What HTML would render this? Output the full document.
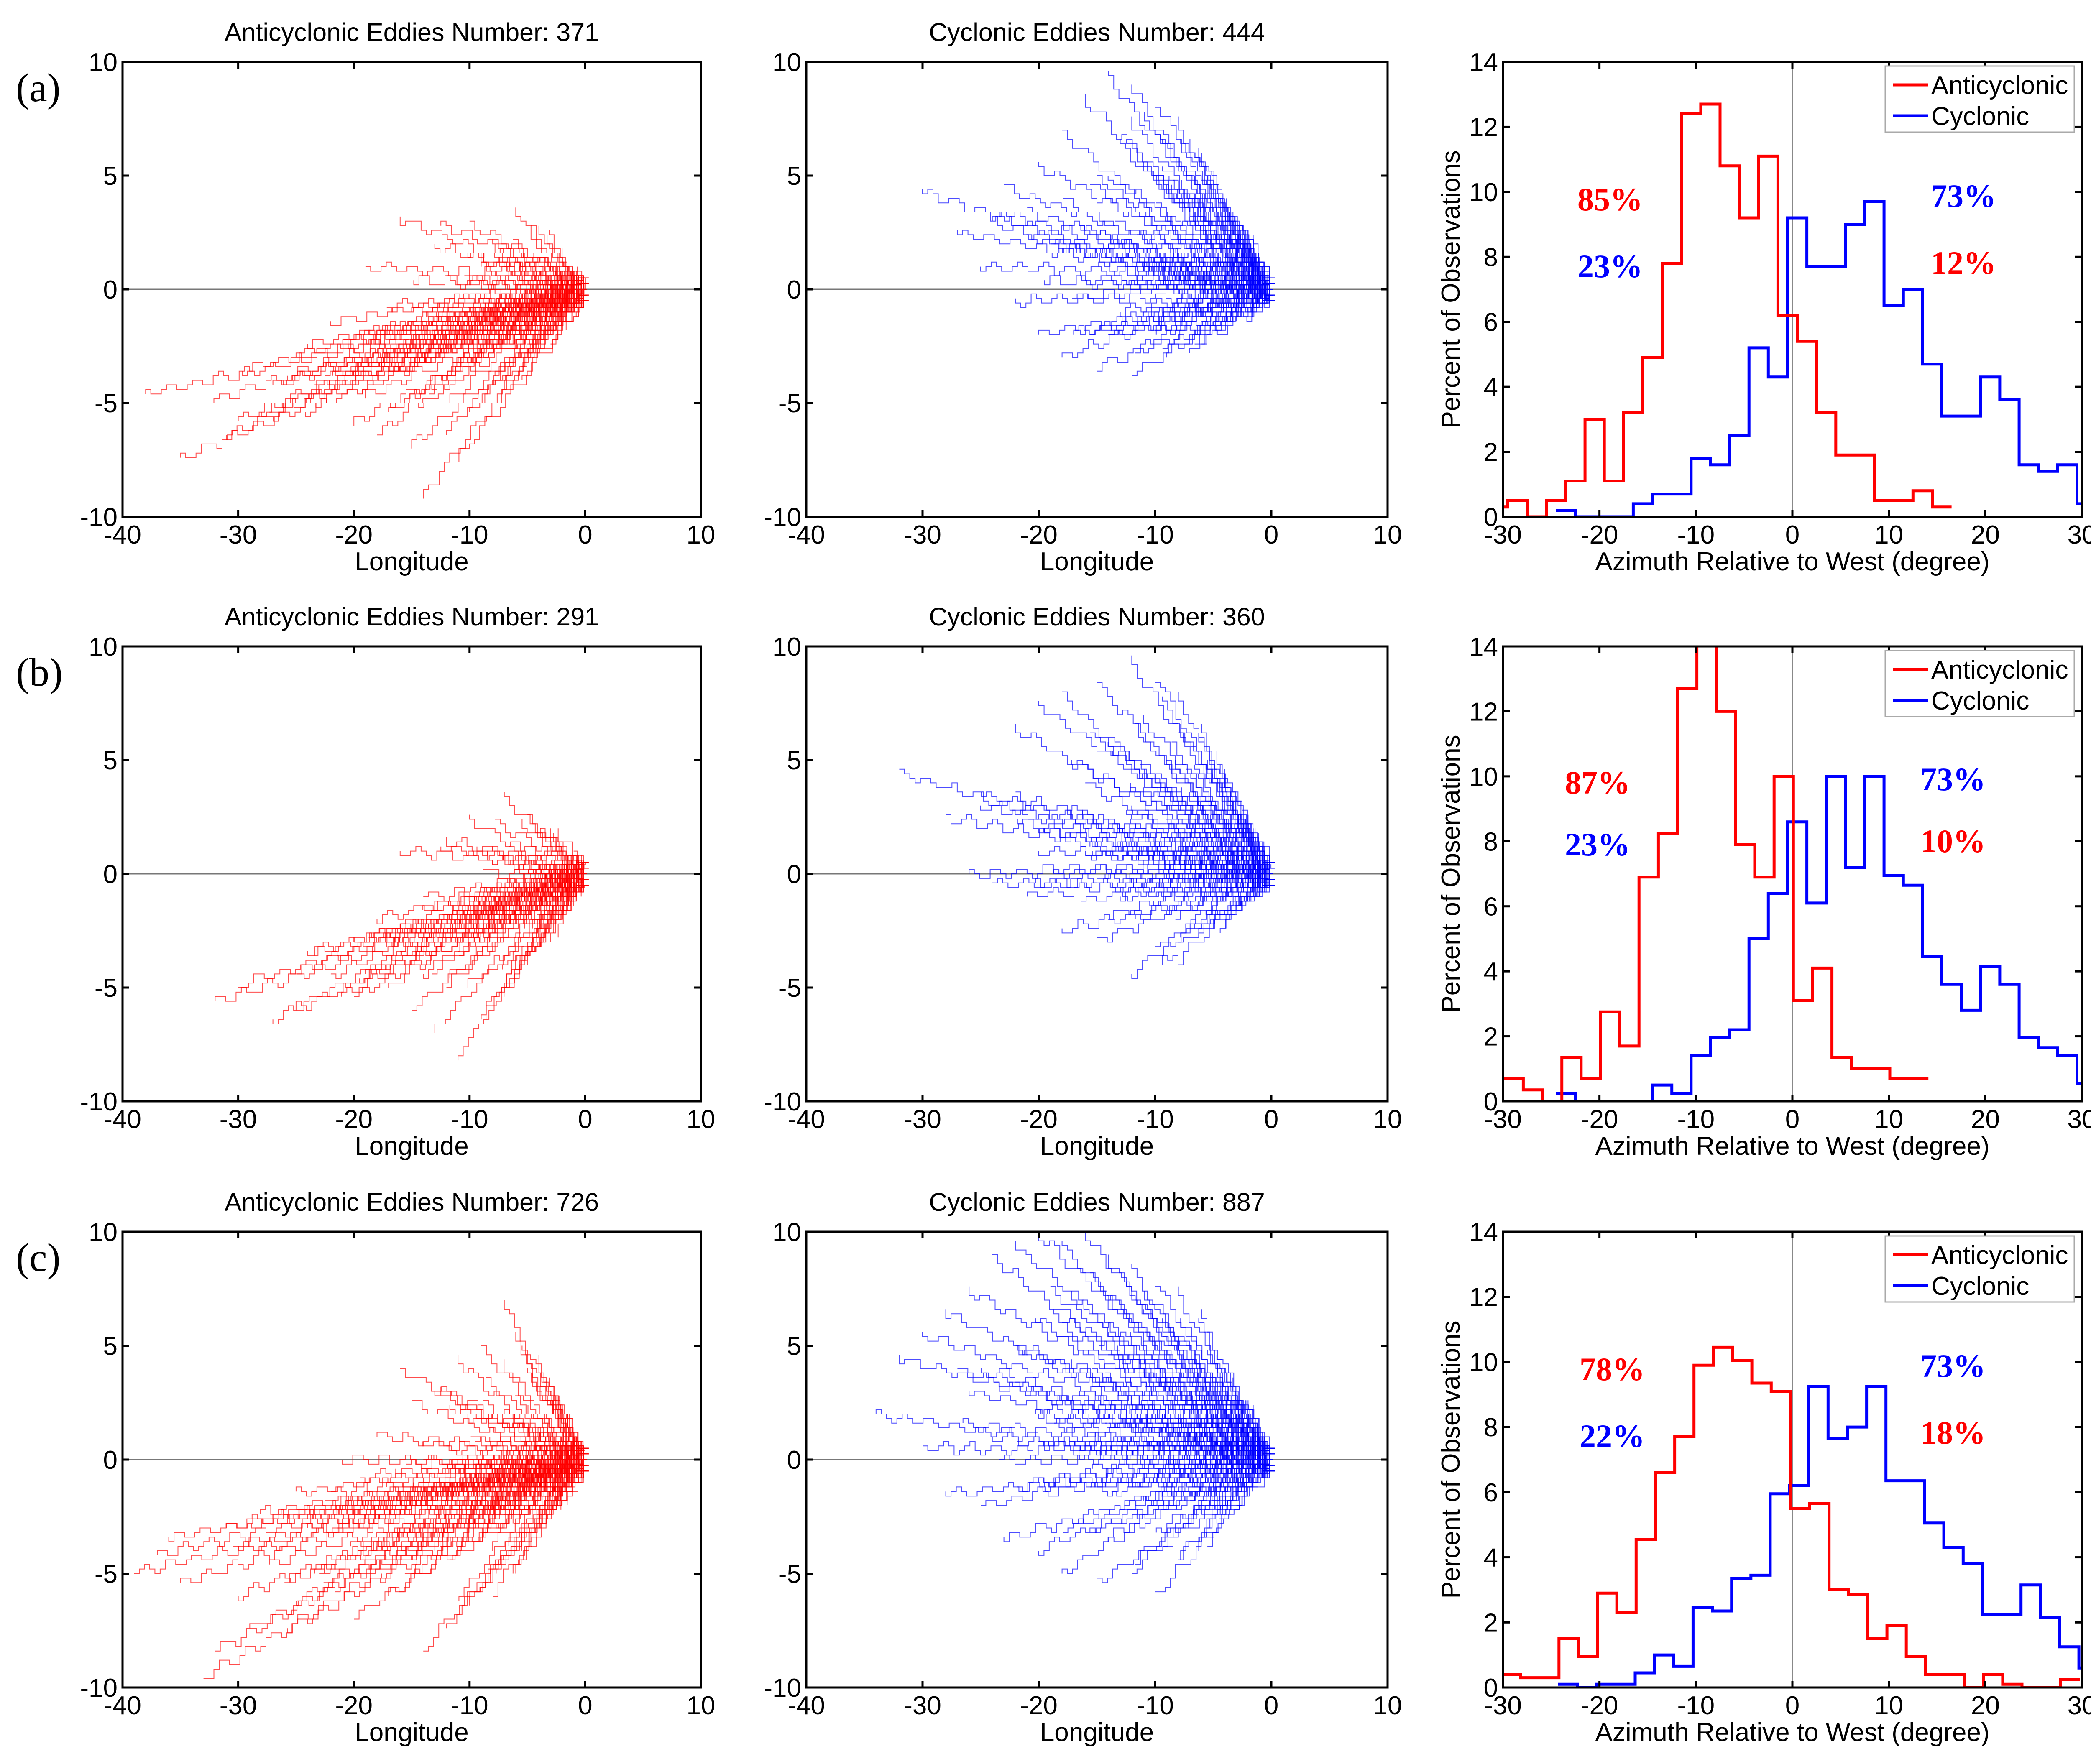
<!DOCTYPE html>
<html>
<head>
<meta charset="utf-8">
<style>
  html,body{margin:0;padding:0;background:#fff;}
  svg{display:block;}
  text{font-family:"Liberation Sans",Arial,sans-serif;fill:#000;}
  .tick{font-size:62px;}
  .ttl{font-size:61px;}
  .pct{font-family:"Liberation Serif","Times New Roman",serif;font-weight:bold;font-size:78px;}
  .plab{font-family:"Liberation Serif","Times New Roman",serif;font-size:96px;}
</style>
</head>
<body>
<svg id="fig" xmlns="http://www.w3.org/2000/svg" width="5060" height="4219" viewBox="0 0 5060 4219">
  <rect x="0" y="0" width="5060" height="4219" fill="#fff"/>
</svg>
<script>
// ---------- Histogram data (percent of observations, 2-degree bins) ----------
const histBinWidth = 2;
const redStartA = -31.5;
const redValsA = [0.3,0.5,0,0.5,1.1,3.0,1.1,3.2,4.9,7.8,12.4,12.7,10.8,9.2,11.1,6.2,5.4,3.2,1.9,1.9,0.5,0.5,0.8,0.3];
const blueStartA = -24.5;
const blueValsA = [0.2,0,0,0,0.4,0.7,0.7,1.8,1.6,2.5,5.2,4.3,9.2,7.7,7.7,9.0,9.7,6.5,7.0,4.7,3.1,3.1,4.3,3.6,1.6,1.4,1.6,0.4];
const redStartB = -29.9;
const redValsB = [0.7,0.35,0,1.35,0.7,2.75,1.7,6.9,8.25,12.7,14.5,12.0,7.9,6.9,10.0,3.1,4.1,1.35,1.0,1.0,0.7,0.7];
const blueStartB = -24.5;
const blueValsB = [0.25,0,0,0,0,0.5,0.25,1.4,1.95,2.2,5.0,6.4,8.6,6.1,10.0,7.2,10.0,6.95,6.65,4.45,3.6,2.8,4.15,3.6,1.95,1.65,1.4,0.55];
const redStartC = -30.2;
const redValsC = [0.4,0.3,0.3,1.5,0.95,2.9,2.3,4.55,6.6,7.7,9.9,10.45,10.05,9.35,9.1,5.5,5.65,3.0,2.85,1.5,1.9,0.95,0.4,0.4,0,0.4,0.1,0,0,0.25];
const blueStartC = -24.3;
const blueValsC = [0.1,0,0.1,0.1,0.45,1.0,0.65,2.45,2.35,3.35,3.45,5.95,6.2,9.25,7.65,8.0,9.25,6.35,6.35,5.05,4.3,3.8,2.25,2.25,3.15,2.15,1.25,0.6];
const histXTicks = [-30,-20,-10,0,10,20,30];
const histYTicks = [0,2,4,6,8,10,12,14];
const pctLabelsA = ["85%","23%","73%","12%"];
const pctLabelsB = ["87%","23%","73%","10%"];
const pctLabelsC = ["78%","22%","73%","18%"];

// ---------- Trajectory endpoints (lon, lat) ----------
const antiLonA = [-38,-35,-31,-33,-28,-26,-24,-22,-20,-18,-15,-14,-12,-16,-10,-6,-4,-19,-13,-8,-2,-25,-30,-23,-17,-10,-7,-5,-3,-1,-21,-18,-15,-12,-9,-6,-4,-11,-8,-13,-19,-27];
const antiLatA = [-4.6,-7.5,-6.5,-5,-5.5,-4,-2.5,-1.5,-6,-6.5,-7,-9.2,-6.5,3.2,3,3.5,2.8,1,2,2.2,1.8,-3,-5.8,-4.5,-5.5,-5.5,-4.5,-3,-2.5,-1,-3.5,-2,-1,0.5,1,0,-1,-3,-2.5,-4.2,-4.8,-4.3];
const cycLonA = [-30,-27,-25,-22,-20,-18,-16,-14,-12,-10,-8,-6,-4,-2,-17,-15,-12,-9,-6,-3,-24,-21,-19,-15,-13,-11,-9,-7,-5,-13,-10,-8,-14,-11,-18,-20,-16,-23,-12,-7];
const cycLatA = [4.3,2.5,1,-0.5,5.5,7,8.5,9.5,9,8.5,7.5,6,4,2.5,-2,-3.5,-3.8,-3,-2.5,-1.5,3,3.5,2,5,6.5,5.5,4.5,3,1.5,-1,-2,0,2,1,-3,-2,0.5,4.5,7.5,6.5];
const antiLonB = [-32,-30,-27,-25,-22,-20,-18,-16,-14,-12,-10,-7,-5,-3,-1,-11,-13,-9,-7,-5,-3,-1,-19,-16,-14,-11,-9,-8,-6,-4,-24,-20,-17,-15,-12];
const antiLatB = [-5.7,-5,-6.5,-6,-4.5,-3,-2,1,-1,1.5,2.5,3.5,2.5,2,1,-8.2,-7,-6.5,-5,-4,-3,-1.5,-4.5,-3.5,-4.5,-3,-1,0.5,-1.5,0,-3.5,-5.5,-5,-6,-5];
const cycLonB = [-32,-28,-25,-22,-20,-18,-15,-12,-10,-8,-6,-4,-2,-24,-21,-18,-15,-12,-10,-8,-5,-3,-20,-16,-14,-12,-9,-7,-16,-13,-10,-6,-26,-22,-11];
const cycLatB = [4.5,2.5,3,6.5,7.5,8,8.5,9.5,9,8,6.5,4.5,2.5,-0.5,-1,-2.5,-3,-4.5,-3.5,-4,-2.5,-1.5,1,4,6,3,5,2,1,-1,0.5,-1,0,3.5,7];
const antiLonC = [-39,-37,-35,-33,-32,-30,-28,-26,-24,-22,-20,-18,-16,-14,-12,-10,-8,-7,-5,-3,-1,-12,-10,-8,-6,-4,-2,-18,-15,-13,-11,-9,-6,-4,-36,-31,-27,-25,-21,-19,-17,-15,-13,-11,-9,-7,-5,-3,-23,-29,-14,-16,-8];
const antiLatC = [-5,-4.2,-5.5,-9.6,-8.5,-6,-4,-5.5,-3,-1.5,-7,-4,-2,-8.5,0.5,-3,2,7,4,3,1,-7.5,-6.5,-6,-5,-3,-2,1,2.5,3,4.5,5,5.5,4.5,-3.5,-3,-2.5,-1.5,0,-2,-6,-5,-4,-1,-2,0,-1,0.5,-5,-7.5,0,4,-4];
const cycLonC = [-34,-32,-30,-28,-26,-24,-22,-20,-18,-16,-14,-12,-10,-8,-6,-4,-2,-30,-28,-25,-23,-20,-18,-15,-12,-10,-8,-6,-3,-26,-24,-22,-20,-18,-16,-14,-12,-10,-8,-15,-12,-20,-17,-9,-6,-5,-11,-19,-27];
const cycLatC = [2,4.5,5.5,6.5,7.5,9,9.5,10,9.5,10,9,8.5,8,7.5,6.5,4,2.5,0.5,-1.5,-2,-3.5,-4,-5,-5.5,-5,-6.2,-4.5,-3.5,-2,3,1,5,2,6,3,5.5,2,4,1,-1.5,-2.5,-1,0.5,-1,0.5,3,6.5,7.5,4];
const trajXTicks = [-40,-30,-20,-10,0,10];
const trajYTicks = [-10,-5,0,5,10];

// ---------- Layout ----------
const NS = "http://www.w3.org/2000/svg";
const svg = document.getElementById('fig');
const cols = [[293,1676],[1928,3318],[3594,4978]];
const rows = [[148,1236],[1546,2634],[2946,4036]];

function mk(tag, attrs, parent){
  const e = document.createElementNS(NS, tag);
  for (const k in attrs) e.setAttribute(k, attrs[k]);
  (parent||svg).appendChild(e);
  return e;
}
function txt(s, x, y, cls, anchor, parent, extra){
  const t = mk('text', Object.assign({x:x, y:y, class:cls, 'text-anchor':anchor||'middle'}, extra||{}), parent);
  t.textContent = s;
  return t;
}

function axesFrame(g, L, R, T, B, xTicks, yTicks, sx, sy){
  for (const v of xTicks){
    const x = sx(v);
    const tk1 = mk('line',{x1:x,y1:B,x2:x,y2:B-16,stroke:'#000','stroke-width':5},g);
    
    
    mk('line',{x1:x,y1:T,x2:x,y2:T+16,stroke:'#000','stroke-width':5},g);
    const lab = txt(String(v), x, B+64, 'tick', 'middle', g);
    
    
  }
  for (const v of yTicks){
    const y = sy(v);
    const tk = mk('line',{x1:L,y1:y,x2:L+16,y2:y,stroke:'#000','stroke-width':5},g);
    
    
    mk('line',{x1:R,y1:y,x2:R-16,y2:y,stroke:'#000','stroke-width':5},g);
    const lab = txt(String(v), L-12, y+22, 'tick', 'end', g);
    
    
  }
  const box = mk('rect',{x:L,y:T,width:R-L,height:B-T,fill:'none',stroke:'#000','stroke-width':5},g);
  
  
}

function trajPanel(ri, ci, lons, lats, color, title){
  const [L,R] = cols[ci], [T,B] = rows[ri];
  const g = mk('g',{});
  
  
  const sx = v => L + (v+40)/50*(R-L);
  const sy = v => T + (10-v)/20*(B-T);
  const tl = txt(title, (L+R)/2, T-50, 'ttl', 'middle', g);
  
  
  const clip = 'clip'+ri+ci;
  const cp = mk('clipPath',{id:clip},g);
  mk('rect',{x:L,y:T,width:R-L,height:B-T},cp);
  const lg = mk('g',{'clip-path':'url(#'+clip+')'},g);
  const zl = mk('line',{x1:L,y1:sy(0),x2:R,y2:sy(0),stroke:'#777','stroke-width':3},lg);
  
  
  const scales = [1, 0.78, 0.55, 0.35];
  for (let pass=0; pass<scales.length; pass++){
    const scale = scales[pass];
    for (let i=0;i<lons.length;i++){
      const endLon = lons[i]*scale, endLat = lats[i]*scale + (pass ? ((i+pass)%3-1)*0.4 : 0);
      const lon0 = ((i*3+pass)%5)*0.15 - 0.3;
      const lat0 = ((i*7+pass*3)%5 - 2)*0.25;
      const n = Math.max(3, Math.round(Math.abs(endLon-lon0)/0.45));
      let d = 'M'+sx(lon0).toFixed(1)+' '+sy(lat0).toFixed(1);
      for (let k=1;k<=n;k++){
        const f = k/n;
        const lo = lon0 + (endLon-lon0)*f;
        let la = lat0 + (endLat-lat0)*f + (k<n ? 0.22*Math.sin(i*1.7+k*1.3+pass*2.1) : 0);
        la = Math.round(la*5)/5;
        d += ' H'+sx(lo).toFixed(1)+' V'+sy(la).toFixed(1);
      }
      const p = mk('path',{d:d,fill:'none',stroke:color,'stroke-width':2,'stroke-opacity':0.7},lg);
      
      
    }
  }
  axesFrame(g, L, R, T, B, trajXTicks, trajYTicks, sx, sy);
  const xl = txt('Longitude', (L+R)/2, B+128, 'tick', 'middle', g);
  
  
}

function stairPath(start, vals, sx, sy){
  let x0 = Math.max(start, -30);
  let d = 'M'+sx(x0).toFixed(1)+' '+sy(vals[0]).toFixed(1);
  for (let i=0;i<vals.length;i++){
    const a = Math.max(start + i*histBinWidth, -30);
    const b = Math.min(start + (i+1)*histBinWidth, 30);
    if (b <= a) continue;
    d += ' V'+sy(vals[i]).toFixed(1)+' H'+sx(b).toFixed(1);
  }
  return d;
}

function histPanel(ri, rS, rV, bS, bV, pcts){
  const [L,R] = cols[2], [T,B] = rows[ri];
  const g = mk('g',{});
  
  
  const sx = v => L + (v+30)/60*(R-L);
  const sy = v => B - v/14*(B-T);
  const clip = 'hclip'+ri;
  const cp = mk('clipPath',{id:clip},g);
  mk('rect',{x:L,y:T,width:R-L,height:B-T},cp);
  const lg = mk('g',{'clip-path':'url(#'+clip+')'},g);
  const zl = mk('line',{x1:sx(0),y1:T,x2:sx(0),y2:B,stroke:'#888','stroke-width':3},lg);
  
  
  const bp = mk('path',{d:stairPath(bS,bV,sx,sy),fill:'none',stroke:'#0000ff','stroke-width':7},lg);
  
  
  const rp = mk('path',{d:stairPath(rS,rV,sx,sy),fill:'none',stroke:'#ff0000','stroke-width':7},lg);
  
  
  axesFrame(g, L, R, T, B, histXTicks, histYTicks, sx, sy);
  const xl = txt('Azimuth Relative to West (degree)', (L+R)/2, B+128, 'tick', 'middle', g);
  
  
  const yl = txt('Percent of Observations', 0, 0, 'tick', 'middle', g, {transform:'translate(3490,'+((T+B)/2)+') rotate(-90)'});
  
  
  // percent labels
  const py = [[T+355, T+515],[T+352, T+500],[T+355, T+515]][ri];
  const lx = [3850, 3820, 3855][ri], rx = [4695, 4670, 4670][ri];
  const pl = [[lx,py[0],'#ff0000'],[lx,py[1],'#0000ff'],[rx,py[0]-8,'#0000ff'],[rx,py[1]-8,'#ff0000']];
  for (let i=0;i<4;i++){
    const t = txt(pcts[i], pl[i][0], pl[i][1], 'pct', 'middle', g, {style:'fill:'+pl[i][2]});
    
    
  }
  // legend
  const lgd = mk('g',{},g);
  
  
  mk('rect',{x:4508,y:T+10,width:452,height:158,fill:'#fff',stroke:'#aaa','stroke-width':3},lgd);
  const e1 = mk('line',{x1:4526,y1:T+55,x2:4610,y2:T+55,stroke:'#ff0000','stroke-width':7},lgd);
  
  
  txt('Anticyclonic', 4618, T+77, 'tick', 'start', lgd);
  const e2 = mk('line',{x1:4526,y1:T+129,x2:4610,y2:T+129,stroke:'#0000ff','stroke-width':7},lgd);
  
  
  txt('Cyclonic', 4618, T+151, 'tick', 'start', lgd);
}

trajPanel(0,0,antiLonA,antiLatA,'#ff0000','Anticyclonic Eddies Number: 371');
trajPanel(0,1,cycLonA,cycLatA,'#0000ff','Cyclonic Eddies Number: 444');
histPanel(0,redStartA,redValsA,blueStartA,blueValsA,pctLabelsA);
trajPanel(1,0,antiLonB,antiLatB,'#ff0000','Anticyclonic Eddies Number: 291');
trajPanel(1,1,cycLonB,cycLatB,'#0000ff','Cyclonic Eddies Number: 360');
histPanel(1,redStartB,redValsB,blueStartB,blueValsB,pctLabelsB);
trajPanel(2,0,antiLonC,antiLatC,'#ff0000','Anticyclonic Eddies Number: 726');
trajPanel(2,1,cycLonC,cycLatC,'#0000ff','Cyclonic Eddies Number: 887');
histPanel(2,redStartC,redValsC,blueStartC,blueValsC,pctLabelsC);

const labs = [['(a)',242],['(b)',1640],['(c)',3040]];
for (const [s,y] of labs){
  const t = txt(s, 38, y, 'plab', 'start');
  
  
}
</script>
</body>
</html>
